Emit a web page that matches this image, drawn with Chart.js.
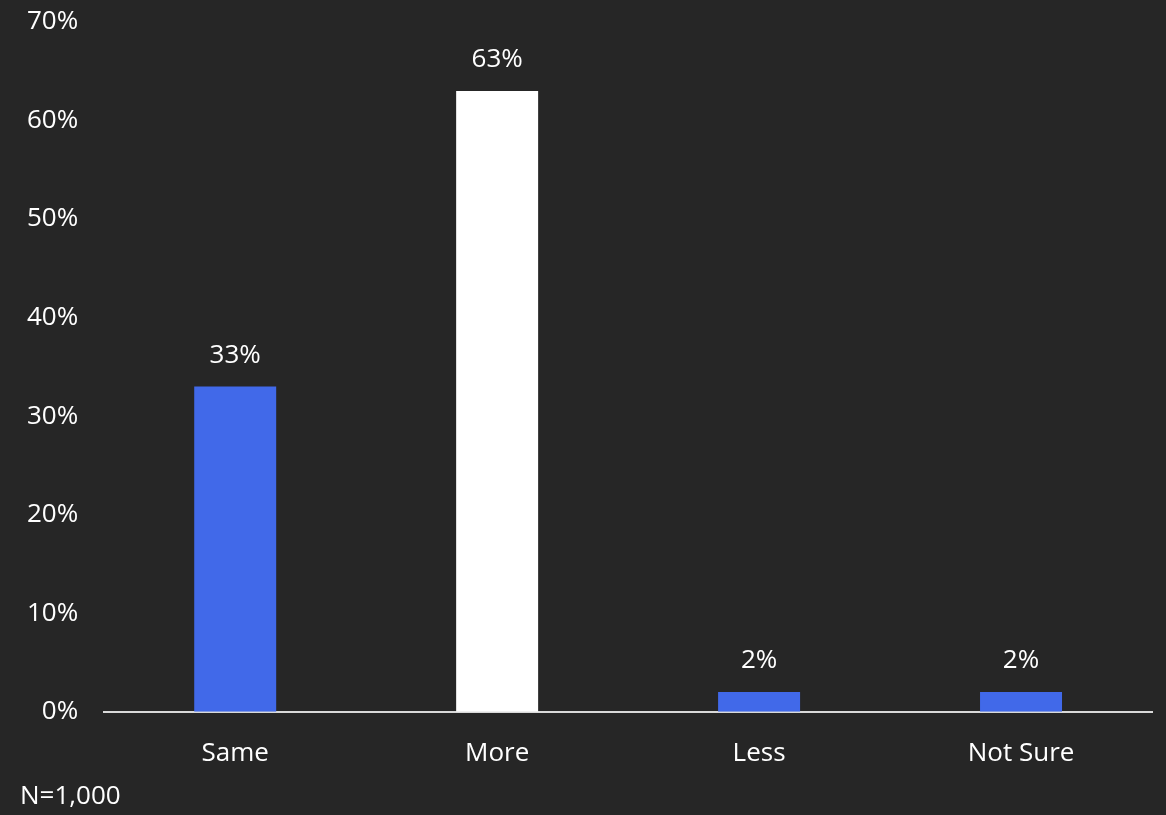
<!DOCTYPE html>
<html>
<head>
<meta charset="utf-8">
<script src="https://cdn.jsdelivr.net/npm/chart.js@4/dist/chart.umd.min.js"></script>
<style>
  html, body { margin: 0; padding: 0; background: #262626; }
  #wrap { width: 1166px; height: 815px; }
</style>
</head>
<body>
<div id="wrap"><canvas id="chart"></canvas></div>
<script>
var categories = ["Same", "More", "Less", "Not Sure"];
var values = [33, 63, 2, 2];
var barColors = ["#4169E9", "#FFFFFF", "#4169E9", "#4169E9"];
var sampleNote = "N=1,000";

// draws the percentage above each bar and the sample note bottom left
var valueLabels = {
    id: "valueLabels",
    afterDatasetsDraw: function (chart) {
        var ctx = chart.ctx;
        var meta = chart.getDatasetMeta(0);
        ctx.save();
        ctx.fillStyle = "#FFFFFF";
        ctx.font = "26px 'Open Sans'";
        ctx.textAlign = "center";
        ctx.textBaseline = "middle";
        meta.data.forEach(function (bar, i) {
            ctx.fillText(values[i] + "%", bar.x, bar.y - 31);
        });
        ctx.textAlign = "left";
        ctx.fillText(sampleNote, 20, chart.height - 18);
        ctx.restore();
    }
};

new Chart(document.getElementById("chart").getContext("2d"), {
    type: "bar",
    data: {
        labels: categories,
        datasets: [{
            data: values,
            backgroundColor: barColors,
            categoryPercentage: 1,
            barPercentage: 0.313
        }]
    },
    options: {
        responsive: true,
        maintainAspectRatio: false,
        animation: false,
        layout: { padding: { left: 1, right: 14, top: 22, bottom: 20 } },
        plugins: {
            legend: { display: false },
            tooltip: { enabled: false }
        },
        scales: {
            x: {
                grid: { display: false, drawTicks: false },
                border: { display: true, color: "#D9D9D9", width: 2 },
                ticks: {
                    color: "#FFFFFF",
                    font: { family: "'Open Sans'", size: 26 },
                    padding: 26
                }
            },
            y: {
                min: 0,
                max: 70,
                grid: { display: false, drawTicks: false },
                border: { display: false },
                afterFit: function (scale) {
                    scale.paddingTop = 0;
                },
                ticks: {
                    stepSize: 10,
                    color: "#FFFFFF",
                    font: { family: "'Open Sans'", size: 26 },
                    padding: 26,
                    callback: function (value) {
                        return value + "%";
                    }
                }
            }
        }
    },
    plugins: [valueLabels]
});
</script>
</body>
</html>
